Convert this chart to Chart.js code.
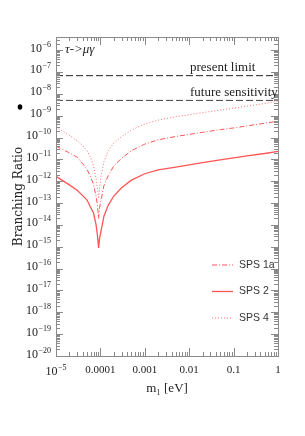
<!DOCTYPE html>
<html>
<head>
<meta charset="utf-8">
<script src="https://cdn.jsdelivr.net/npm/chart.js@4.4.1/dist/chart.umd.min.js"></script>
<style>
    html, body { margin: 0; padding: 0; background: #fff; }
    #wrap { width: 305px; height: 436px; }
</style>
</head>
<body>
<div id="wrap"><canvas id="chart"></canvas></div>
<script>
// lightest neutrino mass m1 [eV]
const masses = [1e-5, 2e-5, 3e-5, 4e-5, 5e-5, 6e-5, 7e-5, 8e-5, 8.6e-5, 9.1e-5, 9.6e-5, 1.05e-4, 1.2e-4, 1.5e-4,
    2e-4, 3e-4, 5e-4, 1e-3, 2e-3, 5e-3, 1e-2, 2e-2, 5e-2, 0.1, 0.2, 0.5, 1]

// BR(tau -> mu gamma)
const sps1a = [4.0e-11, 2.0e-11, 1.26e-11, 6.3e-12, 3.5e-12, 1.6e-12, 7.1e-13, 2.0e-13, 7.9e-14, 2.0e-14, 6.3e-14, 1.6e-13, 6.3e-13, 1.8e-12,
    5.0e-12, 1.12e-11, 2.5e-11, 5.0e-11, 7.9e-11, 1.12e-10, 1.38e-10, 1.74e-10, 2.3e-10, 2.75e-10, 3.4e-10, 4.5e-10, 5.6e-10]
const sps2 = [1.66e-12, 6.8e-13, 3.9e-13, 2.2e-13, 1.38e-13, 6.5e-14, 3.5e-14, 1.0e-14, 3.2e-15, 8.9e-16, 2.5e-15, 6.3e-15, 2.5e-14, 7.9e-14,
    2.1e-13, 5.0e-13, 1.12e-12, 2.2e-12, 3.3e-12, 4.4e-12, 5.6e-12, 7.1e-12, 9.5e-12, 1.17e-11, 1.45e-11, 1.86e-11, 2.35e-11]
const sps4 = [3.0e-10, 1.26e-10, 7.1e-11, 4.2e-11, 2.5e-11, 1.26e-11, 5.0e-12, 1.26e-12, 4.5e-13, 1.6e-13, 5.0e-13, 2.0e-12, 7.9e-12, 2.5e-11,
    5.6e-11, 1.12e-10, 2.2e-10, 4.2e-10, 6.3e-10, 8.9e-10, 1.12e-9, 1.38e-9, 1.8e-9, 2.24e-9, 2.75e-9, 3.6e-9, 4.7e-9]

const presentLimit = 6.8e-8
const futureSensitivity = 5e-9

const seriesNames = ['SPS 1a', 'SPS 2', 'SPS 4']
const xTickValues = [1e-5, 1e-4, 1e-3, 1e-2, 0.1, 1]
const xTickLabels = ['10|-5', '0.0001', '0.001', '0.01', '0.1', '1']   // "base|exponent" for powers
const yTickExps = [-20, -19, -18, -17, -16, -15, -14, -13, -12, -11, -10, -9, -8, -7, -6]

const red = 'rgb(255, 85, 85)'
const toPoints = vals => masses.map((m, i) => ({x: m, y: vals[i]}))

// draw "10" with a raised exponent, right-aligned at x (or centred)
function drawPower(ctx, base, exp, x, y, align) {
    ctx.font = '12px "Liberation Serif"'
    const wb = ctx.measureText(base).width
    ctx.font = '8px "Liberation Serif"'
    const we = ctx.measureText(exp).width
    const total = wb + we + 0.5
    const x0 = align === 'right' ? x - total : x - total / 2
    ctx.font = '12px "Liberation Serif"'
    ctx.fillText(base, x0, y)
    ctx.font = '8px "Liberation Serif"'
    ctx.fillText(exp, x0 + wb + 0.5, y - 5)
}

const decorations = {
    id: 'decorations',
    afterDraw(chart) {
        const ctx = chart.ctx
        const {left, right, top, bottom} = chart.chartArea
        const xs = chart.scales.x
        const ys = chart.scales.y
        ctx.save()
        ctx.strokeStyle = '#8a8a8a'
        ctx.lineWidth = 1

        // ticks on all four sides, pointing inwards
        ctx.beginPath()
        for (let d = -5; d <= 0; d++) {
            for (let k = 1; k <= 9; k++) {
                const v = k * Math.pow(10, d)
                if (v > 1.0000001) continue
                const px = Math.round(xs.getPixelForValue(v)) + 0.5
                const len = k === 1 ? 8 : 4
                ctx.moveTo(px, bottom); ctx.lineTo(px, bottom - len)
                ctx.moveTo(px, top); ctx.lineTo(px, top + len)
            }
        }
        for (let d = -20; d <= -6; d++) {
            for (let k = 1; k <= 9; k++) {
                const v = k * Math.pow(10, d)
                if (v > ys.max) continue
                const py = Math.round(ys.getPixelForValue(v)) + 0.5
                const len = k === 1 ? 7 : 4
                ctx.moveTo(left, py); ctx.lineTo(left + len, py)
                ctx.moveTo(right, py); ctx.lineTo(right - len, py)
            }
        }
        ctx.stroke()
        ctx.strokeRect(Math.round(left) + 0.5, Math.round(top) + 0.5, Math.round(right - left), Math.round(bottom - top))

        // tick labels
        ctx.fillStyle = '#222'
        ctx.textAlign = 'left'
        ctx.textBaseline = 'alphabetic'
        ys.ticks.forEach((t, i) => {
            drawPower(ctx, '10', '−' + String(-yTickExps[i]), left - 5, ys.getPixelForValue(t.value) + 1.5, 'right')
        })
        xs.ticks.forEach((t, i) => {
            const px = xs.getPixelForValue(t.value)
            const lab = xTickLabels[i]
            if (lab.includes('|')) {
                const [b, e] = lab.split('|')
                drawPower(ctx, b, e.replace('-', '−'), px, bottom + 19, 'center')
            } else {
                ctx.font = '11px "Liberation Serif"'
                ctx.textAlign = 'center'
                ctx.fillText(lab, px, bottom + 17)
                ctx.textAlign = 'left'
            }
        })

        // annotations
        ctx.textBaseline = 'middle'
        ctx.font = 'italic 13px "Liberation Serif"'
        ctx.fillText('τ->μγ', left + 9, top + 13)
        ctx.font = '13px "Liberation Serif"'
        ctx.fillText('present limit', left + 134, ys.getPixelForValue(presentLimit) - 8)
        ctx.fillText('future sensitivity', left + 134, ys.getPixelForValue(futureSensitivity) - 8)

        // legend
        ctx.font = '10.5px "Liberation Sans"'
        chart.data.datasets.slice(0, 3).forEach((ds, i) => {
            const y = bottom - 91 + i * 26.5
            ctx.strokeStyle = ds.borderColor
            ctx.lineWidth = ds.borderWidth
            ctx.setLineDash(ds.borderDash || [])
            ctx.beginPath()
            ctx.moveTo(right - 66, y)
            ctx.lineTo(right - 45, y)
            ctx.stroke()
            ctx.setLineDash([])
            ctx.fillStyle = '#333'
            ctx.fillText(ds.label, right - 39, y)
        })

        // stray marker left of the axis title
        ctx.fillStyle = '#000'
        ctx.beginPath()
        ctx.ellipse(20, 107, 2.3, 2.8, 0, 0, Math.PI * 2)
        ctx.fill()
        ctx.restore()
    }
}

const ctx = document.getElementById('chart').getContext('2d')
new Chart(ctx, {
    type: 'line',
    data: {
        datasets: [
            {
                label: seriesNames[0],
                data: toPoints(sps1a),
                borderColor: red,
                borderWidth: 1,
                borderDash: [5, 2, 1, 2],
            },
            {
                label: seriesNames[1],
                data: toPoints(sps2),
                borderColor: red,
                borderWidth: 1.3,
            },
            {
                label: seriesNames[2],
                data: toPoints(sps4),
                borderColor: 'rgb(255, 110, 110)',
                borderWidth: 1,
                borderDash: [1, 2],
            },
            {
                label: 'present limit',
                data: [{x: 1e-5, y: presentLimit}, {x: 1, y: presentLimit}],
                borderColor: '#222',
                borderWidth: 1,
                borderDash: [7, 3],
            },
            {
                label: 'future sensitivity',
                data: [{x: 1e-5, y: futureSensitivity}, {x: 1, y: futureSensitivity}],
                borderColor: '#444',
                borderWidth: 1,
                borderDash: [7, 3],
            },
        ],
    },
    options: {
        responsive: true,
        maintainAspectRatio: false,
        animation: false,
        devicePixelRatio: 1,
        elements: {
            point: {radius: 0},
            line: {tension: 0, fill: false},
        },
        layout: {
            padding: {top: 37, right: 27, left: 0, bottom: 0},
        },
        plugins: {
            legend: {display: false},
            tooltip: {enabled: false},
        },
        scales: {
            x: {
                type: 'logarithmic',
                min: 1e-5,
                max: 1,
                afterBuildTicks: s => { s.ticks = xTickValues.map(v => ({value: v})) },
                afterFit: s => { s.height = 80 },
                grid: {display: false},
                border: {display: false},
                ticks: {
                    autoSkip: false,
                    maxRotation: 0,
                    callback: () => '',
                },
                title: {
                    display: true,
                    text: 'm₁ [eV]',
                    color: '#222',
                    font: {family: 'Liberation Serif', size: 13},
                    padding: {top: 0, bottom: 40},
                },
            },
            y: {
                type: 'logarithmic',
                min: 1e-20,
                max: 4e-6,
                afterBuildTicks: s => { s.ticks = yTickExps.map(e => ({value: Math.pow(10, e)})) },
                afterFit: s => { s.width = 56 },
                grid: {display: false},
                border: {display: false},
                ticks: {
                    autoSkip: false,
                    callback: () => '',
                },
                title: {
                    display: true,
                    text: 'Branching Ratio',
                    color: '#222',
                    font: {family: 'DejaVu Serif', size: 12},
                    padding: {top: 12, bottom: 0},
                },
            },
        },
    },
    plugins: [decorations],
})
</script>
</body>
</html>
